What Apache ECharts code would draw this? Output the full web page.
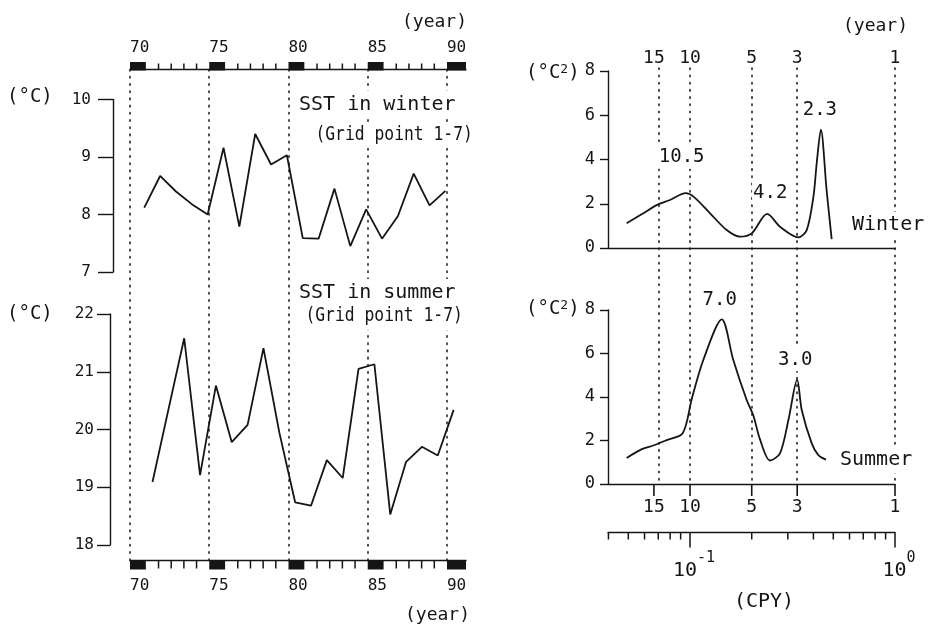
<!DOCTYPE html>
<html>
<head>
<meta charset="utf-8">
<script src="https://cdn.jsdelivr.net/npm/echarts@6.0.0/dist/echarts.min.js"></script>
<style>
html, body { margin: 0; padding: 0; background: #fff; }
#chart { width: 931px; height: 629px; }
</style>
</head>
<body>
<div id="chart"></div>
<script>
// ---- SST time series (grid point 1-7) ----
const years = [71, 72, 73, 74, 75, 76, 77, 78, 79, 80, 81, 82, 83, 84, 85, 86, 87, 88, 89, 90];
const winterSST = [8.12, 8.67, 8.40, 8.18, 8.00, 9.16, 7.79, 9.40, 8.87, 9.03, 7.59, 7.58, 8.45, 7.45, 8.09, 7.58, 7.97, 8.71, 8.16, 8.41];
const summerSST = [19.09, 20.34, 21.58, 19.21, 20.76, 19.78, 20.08, 21.41, 19.95, 18.74, 18.68, 19.47, 19.16, 21.05, 21.13, 18.53, 19.44, 19.70, 19.55, 20.34];
const yearTicks = [70, 75, 80, 85, 90];

// ---- power spectra (frequency in cycles per year, power in degC^2) ----
const winterFreq  = [0.0491, 0.0592, 0.0688, 0.0798, 0.0952, 0.1040, 0.1252, 0.1510, 0.1754, 0.2000, 0.2381, 0.2750, 0.3375, 0.3710, 0.4000, 0.4150, 0.4348, 0.4640, 0.4910];
const winterPower = [1.12, 1.57, 1.94, 2.17, 2.48, 2.32, 1.57, 0.81, 0.51, 0.66, 1.54, 0.96, 0.48, 0.81, 2.32, 3.83, 5.35, 2.60, 0.40];
const summerFreq  = [0.0491, 0.0570, 0.0662, 0.0770, 0.0921, 0.1019, 0.1161, 0.1429, 0.1626, 0.1890, 0.2037, 0.2195, 0.2455, 0.2748, 0.3020, 0.3333, 0.3507, 0.3925, 0.4226, 0.4606];
const summerPower = [1.20, 1.56, 1.77, 2.02, 2.33, 3.90, 5.70, 7.57, 5.70, 3.86, 3.15, 2.05, 1.08, 1.41, 2.94, 4.80, 3.40, 1.87, 1.33, 1.12];
const winterPeakPeriods = [10.5, 4.2, 2.3];
const summerPeakPeriods = [7.0, 3.0];
const periodMarks = [15, 10, 5, 3, 1];

// ---- ruler decorations ----
const rulerBlocks = [[70, 71], [75, 76], [80, 81], [85, 86], [90, 91.2]];
const rulerMinor = [71.8, 72.6, 73.4, 74.2, 76.8, 77.6, 78.4, 79.2, 81.8, 82.6, 83.4, 84.2, 86.8, 87.6, 88.4, 89.2];
const logMinor = [0.04, 0.05, 0.06, 0.07, 0.08, 0.09, 0.2, 0.3, 0.4, 0.5, 0.6, 0.7, 0.8, 0.9];
const logMajor = [0.1, 1];

const FONT = 'DejaVu Sans Mono';
const INK = '#151515';
const X_MIN = 70, X_MAX = 91.2;
const F_MIN = 0.0398, F_MAX = 1;
const winterPos = -0.1;   // winter means sit at the start of the year
const summerPos = 0.42;   // summer means sit mid-year

const chart = echarts.init(document.getElementById('chart'), null, { renderer: 'canvas' });

const dotted = { color: INK, width: 1.5, type: [1.6, 5.6], cap: 'round' };
const noGridBounds = { outerBoundsMode: 'none', containLabel: false };
const solidLine = { color: INK, width: 1.4 };

function hiddenValueAxis(gridIndex) {
  return { gridIndex, type: 'value', min: 0, max: 1, show: false, splitLine: { show: false } };
}

function yearAxis(gridIndex, position, margin) {
  return {
    gridIndex, type: 'value', min: X_MIN, max: X_MAX, interval: 5, position,
    axisLine: { show: true, onZero: false, lineStyle: solidLine },
    axisTick: { show: false },
    splitLine: { show: false },
    axisLabel: {
      show: true, margin, align: 'left',
      fontFamily: FONT, fontSize: 16, color: INK,
      formatter: v => (v % 5 === 0 && v <= 90) ? String(v) : ''
    }
  };
}

function freqAxis(gridIndex, extra) {
  return Object.assign({
    gridIndex, type: 'log', logBase: 10, min: F_MIN, max: F_MAX,
    axisLine: { show: false, onZero: false }, axisTick: { show: false },
    axisLabel: { show: false }, splitLine: { show: false }
  }, extra || {});
}

function tempAxis(gridIndex, min, max, offset, tickLen, margin) {
  return {
    gridIndex, type: 'value', min, max, interval: 1, offset, position: 'left',
    axisLine: { show: true, onZero: false, lineStyle: solidLine },
    axisTick: { show: true, length: tickLen, lineStyle: solidLine },
    axisLabel: { margin, fontFamily: FONT, fontSize: 16, color: INK },
    splitLine: { show: false }
  };
}

function powerAxis(gridIndex) {
  return {
    gridIndex, type: 'value', min: 0, max: 8, interval: 2, position: 'left',
    axisLine: { show: true, onZero: false, lineStyle: solidLine },
    axisTick: { show: true, length: 8, lineStyle: solidLine },
    axisLabel: { margin: 13, fontFamily: FONT, fontSize: 17, color: INK },
    splitLine: { show: false }
  };
}

function peakLabelSeries(xAxisIndex, yAxisIndex, periods, freq, power, offsets) {
  const data = periods.map(p => {
    const f = 1 / p;
    let best = 0;
    freq.forEach((v, i) => { if (Math.abs(v - f) < Math.abs(freq[best] - f)) best = i; });
    return [f, power[best], p.toFixed(1)];
  });
  return {
    type: 'custom', xAxisIndex, yAxisIndex, z: 10, silent: true,
    data,
    renderItem(params, api) {
      const pt = api.coord([api.value(0), api.value(1)]);
      const off = offsets[params.dataIndex];
      return {
        type: 'text', x: pt[0] + off[0], y: pt[1] + off[1],
        style: {
          text: data[params.dataIndex][2], fill: INK,
          font: '19px ' + FONT, align: 'center', verticalAlign: 'middle',
          backgroundColor: '#fff', padding: [2, 1]
        }
      };
    }
  };
}

function plainText(text, x, y, size, align, bg, scaleX) {
  const el = {
    type: 'text', x, y, z: 100,
    style: {
      text, fill: INK, font: size + 'px ' + FONT,
      align: align || 'left', verticalAlign: 'middle'
    }
  };
  if (bg) { el.style.backgroundColor = '#fff'; el.style.padding = bg; }
  if (scaleX) { el.scaleX = scaleX; }
  return el;
}

function unitText(y) {
  return {
    type: 'text', x: 526, y, z: 100,
    style: {
      text: '(°C{s|2})', fill: INK, font: '19px ' + FONT, verticalAlign: 'middle',
      rich: { s: { fontSize: 13, fontFamily: FONT, fill: INK, verticalAlign: 'top', lineHeight: 12 } }
    }
  };
}

const option = {
  animation: false,
  backgroundColor: '#fff',
  grid: [
    Object.assign({ left: 130, width: 336, top: 69.5, height: 491 }, noGridBounds),    // 0 year frame
    Object.assign({ left: 130, width: 336, top: 99.5, height: 172.5 }, noGridBounds),  // 1 winter SST
    Object.assign({ left: 130, width: 336, top: 314, height: 231 }, noGridBounds),     // 2 summer SST
    Object.assign({ left: 608, width: 287, top: 68, height: 412 }, noGridBounds),      // 3 period frame
    Object.assign({ left: 608, width: 287, top: 71, height: 177 }, noGridBounds),      // 4 winter spectrum
    Object.assign({ left: 608, width: 287, top: 310, height: 174 }, noGridBounds),     // 5 summer spectrum
    Object.assign({ left: 608, width: 287, top: 532.5, height: 16 }, noGridBounds)     // 6 CPY ruler
  ],
  xAxis: [
    yearAxis(0, 'top', 14),                                   // 0
    yearAxis(0, 'bottom', 17),                                // 1
    { gridIndex: 1, type: 'value', min: X_MIN, max: X_MAX, show: false, splitLine: { show: false } }, // 2
    { gridIndex: 2, type: 'value', min: X_MIN, max: X_MAX, show: false, splitLine: { show: false } }, // 3
    freqAxis(3, { show: false }),                             // 4
    freqAxis(4, { axisLine: { show: true, onZero: false, lineStyle: solidLine } }), // 5
    freqAxis(5, { axisLine: { show: true, onZero: false, lineStyle: solidLine } }), // 6
    freqAxis(6, { position: 'top', axisLine: { show: true, onZero: false, lineStyle: solidLine } }) // 7
  ],
  yAxis: [
    hiddenValueAxis(0),                       // 0
    tempAxis(1, 7, 10, 17, 15, 22),           // 1
    tempAxis(2, 18, 22, 20, 13, 16),          // 2
    hiddenValueAxis(3),                       // 3
    powerAxis(4),                             // 4
    powerAxis(5),                             // 5
    hiddenValueAxis(6)                        // 6
  ],
  series: [
    // year rulers: filled blocks at every fifth year, top and bottom
    {
      type: 'custom', xAxisIndex: 0, yAxisIndex: 0, silent: true, z: 3,
      data: rulerBlocks,
      renderItem(params, api) {
        const a = api.coord([api.value(0), 1]);
        const b = api.coord([api.value(1), 0]);
        const w = b[0] - a[0];
        return {
          type: 'group', children: [
            { type: 'rect', shape: { x: a[0], y: a[1] - 7.5, width: w, height: 8.5 }, style: { fill: INK } },
            { type: 'rect', shape: { x: a[0], y: b[1] - 0.5, width: w, height: 9.5 }, style: { fill: INK } }
          ]
        };
      }
    },
    // year rulers: small ticks between the blocks
    {
      type: 'custom', xAxisIndex: 0, yAxisIndex: 0, silent: true, z: 3,
      data: rulerMinor.map(v => [v]),
      renderItem(params, api) {
        const a = api.coord([api.value(0), 1]);
        const b = api.coord([api.value(0), 0]);
        const ls = { stroke: INK, lineWidth: 1.5 };
        return {
          type: 'group', children: [
            { type: 'line', shape: { x1: a[0], y1: a[1], x2: a[0], y2: a[1] - 6 }, style: ls },
            { type: 'line', shape: { x1: b[0], y1: b[1], x2: b[0], y2: b[1] + 8 }, style: ls }
          ]
        };
      }
    },
    // dotted guides every five years
    {
      type: 'line', xAxisIndex: 0, yAxisIndex: 0, data: [], silent: true,
      markLine: {
        silent: true, symbol: 'none', label: { show: false },
        lineStyle: dotted,
        data: yearTicks.map(v => ({ xAxis: v }))
      }
    },
    {
      name: 'SST in winter', type: 'line', xAxisIndex: 2, yAxisIndex: 1, z: 5,
      data: years.map((y, i) => [y + winterPos, winterSST[i]]),
      showSymbol: false, lineStyle: { color: INK, width: 1.8 }
    },
    {
      name: 'SST in summer', type: 'line', xAxisIndex: 3, yAxisIndex: 2, z: 5,
      data: years.map((y, i) => [y + summerPos, summerSST[i]]),
      showSymbol: false, lineStyle: { color: INK, width: 1.8 }
    },
    // period guides on the spectra, with their labels along the top
    {
      type: 'custom', xAxisIndex: 4, yAxisIndex: 3, silent: true,
      data: periodMarks.map(p => [1 / p, 1, p]),
      renderItem(params, api) {
        const pt = api.coord([api.value(0), 1]);
        return {
          type: 'text', x: pt[0], y: pt[1] - 10,
          style: {
            text: String(api.value(2)), fill: INK, font: '18px ' + FONT,
            align: 'center', verticalAlign: 'middle'
          }
        };
      }
    },
    {
      type: 'line', xAxisIndex: 4, yAxisIndex: 3, data: [], silent: true,
      markLine: {
        silent: true, symbol: 'none', label: { show: false },
        lineStyle: dotted,
        data: periodMarks.map(p => ({ xAxis: 1 / p }))
      }
    },
    {
      name: 'Winter', type: 'line', xAxisIndex: 5, yAxisIndex: 4, z: 5,
      data: winterFreq.map((f, i) => [f, winterPower[i]]),
      showSymbol: false, smooth: 0.3,
      lineStyle: { color: INK, width: 1.8 }
    },
    {
      name: 'Summer', type: 'line', xAxisIndex: 6, yAxisIndex: 5, z: 5,
      data: summerFreq.map((f, i) => [f, summerPower[i]]),
      showSymbol: false, smooth: 0.3,
      lineStyle: { color: INK, width: 1.8 }
    },
    peakLabelSeries(5, 4, winterPeakPeriods, winterFreq, winterPower, [[-4, -36], [3, -21], [-1, -20]]),
    peakLabelSeries(6, 5, summerPeakPeriods, summerFreq, summerPower, [[-2, -19], [-2, -20]]),
    // period ticks and labels under the summer spectrum
    {
      type: 'custom', xAxisIndex: 6, yAxisIndex: 5, silent: true,
      data: periodMarks.map(p => [1 / p, 0, p]),
      renderItem(params, api) {
        const pt = api.coord([api.value(0), 0]);
        return {
          type: 'group', children: [
            { type: 'line', shape: { x1: pt[0], y1: pt[1], x2: pt[0], y2: pt[1] + 12 }, style: { stroke: INK, lineWidth: 1.6 } },
            {
              type: 'text', x: pt[0], y: pt[1] + 23,
              style: { text: String(api.value(2)), fill: INK, font: '18px ' + FONT, align: 'center', verticalAlign: 'middle' }
            }
          ]
        };
      }
    },
    // logarithmic CPY ruler: ticks hanging from the line, decade labels below
    {
      type: 'custom', xAxisIndex: 7, yAxisIndex: 6, silent: true,
      data: logMinor.map(v => [v, 0]).concat(logMajor.map(v => [v, 1])),
      renderItem(params, api) {
        const v = api.value(0);
        const pt = api.coord([v, 1]);
        const major = api.value(1) === 1;
        const children = [{
          type: 'line', shape: { x1: pt[0], y1: pt[1], x2: pt[0], y2: pt[1] + (major ? 15 : 7) },
          style: { stroke: INK, lineWidth: 1.5 }
        }];
        if (major) {
          const e = Math.round(Math.log10(v));
          children.push({
            type: 'text', x: pt[0] + 4, y: pt[1] + 33,
            style: {
              text: '{b|10}{s|' + e + '}', align: 'center', verticalAlign: 'middle',
              rich: {
                b: { fontFamily: FONT, fontSize: 20, fill: INK, lineHeight: 30, verticalAlign: 'bottom' },
                s: { fontFamily: FONT, fontSize: 15, fill: INK, lineHeight: 14, verticalAlign: 'top' }
              }
            }
          });
        }
        return { type: 'group', children };
      }
    }
  ],
  graphic: {
    elements: [
      plainText('(year)', 467, 22, 18, 'right'),
      plainText('(year)', 470, 615, 18, 'right'),
      plainText('(year)', 908, 26, 18, 'right'),
      plainText('(°C)', 7, 97.5, 19, 'left'),
      plainText('(°C)', 7, 314.5, 19, 'left'),
      unitText(73),
      unitText(309),
      plainText('SST in winter', 295, 104.5, 20, 'left', [6, 4, 2, 4]),
      plainText('(Grid point 1-7)', 312, 135, 19, 'left', [2, 4, 4, 4], 0.86),
      plainText('SST in summer', 295, 293, 20, 'left', [6, 4, 2, 4]),
      plainText('(Grid point 1-7)', 302, 316, 19, 'left', [0, 4, 10, 4], 0.86),
      plainText('Winter', 850, 225, 20, 'left', [3, 2, 3, 2]),
      plainText('Summer', 838, 460, 20, 'left', [3, 2, 3, 2]),
      plainText('(CPY)', 764, 602, 20, 'center')
    ]
  }
};

chart.setOption(option);
</script>
</body>
</html>
